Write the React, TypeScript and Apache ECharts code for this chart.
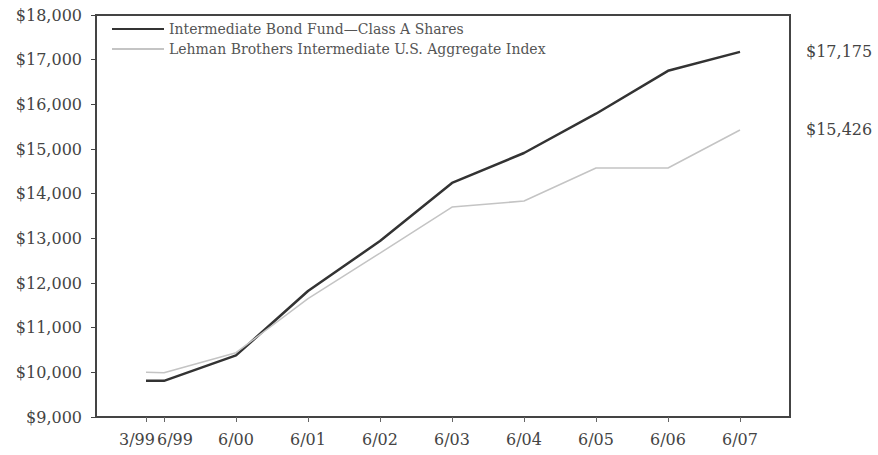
import React, { useEffect, useRef } from "react";
import * as echarts from "echarts";

// Months elapsed since 3/99 for each reporting date
const periodLabels = ["3/99", "6/99", "6/00", "6/01", "6/02", "6/03", "6/04", "6/05", "6/06", "6/07"];
const periodMonths = [0, 3, 15, 27, 39, 51, 63, 75, 87, 99];

// Growth of a $10,000 investment
const fundValues = [9810, 9810, 10380, 11820, 12940, 14240, 14910, 15790, 16750, 17175];
const indexValues = [10000, 9990, 10440, 11650, 12670, 13700, 13835, 14575, 14575, 15426];

const fundName = "Intermediate Bond Fund\u2014Class A Shares";
const indexName = "Lehman Brothers Intermediate U.S. Aggregate Index";

const FONT = "DejaVu Serif";

const money = (v: number) => "$" + v.toLocaleString("en-US");

export default function App() {
  const ref = useRef<HTMLDivElement>(null);

  useEffect(() => {
    if (!ref.current) return;
    const chart = echarts.init(ref.current, null, { renderer: "svg" });
    const pairs = (vals: number[]) => periodMonths.map((m, i) => [m, vals[i]]);
    const labelOf = (v: number) => {
      const i = periodMonths.indexOf(Math.round(v));
      return i >= 0 ? periodLabels[i] : "";
    };

    chart.setOption({
      animation: false,
      backgroundColor: "#fff",
      textStyle: { fontFamily: FONT },
      grid: {
        left: 96,
        right: 88,
        top: 15,
        bottom: 38,
        show: true,
        borderColor: "#444",
        borderWidth: 2,
      },
      legend: {
        orient: "vertical",
        left: 106,
        top: 17,
        itemWidth: 52,
        itemHeight: 10,
        itemGap: 6,
        itemStyle: { opacity: 0 },
        textStyle: { fontFamily: FONT, fontSize: 14, color: "#555" },
        data: [fundName, indexName],
      },
      xAxis: {
        type: "value",
        min: -8.333,
        max: 107.333,
        splitLine: { show: false },
        axisLine: { show: true, onZero: false, lineStyle: { color: "#444", width: 2 } },
        axisTick: {
          show: true,
          customValues: periodMonths,
          length: 5,
          lineStyle: { color: "#666" },
        },
        axisLabel: {
          customValues: periodMonths,
          margin: 14,
          fontFamily: FONT,
          fontSize: 16,
          color: "#444",
          formatter: (v: number) => {
            const t = labelOf(v);
            if (t === "3/99") return "{l|" + t + "}";
            if (t === "6/99") return "{r|" + t + "}";
            return t;
          },
          rich: {
            l: { fontFamily: FONT, fontSize: 16, color: "#444", padding: [0, 18, 0, 0] },
            r: { fontFamily: FONT, fontSize: 16, color: "#444", padding: [0, 0, 0, 22] },
          },
        },
      },
      yAxis: {
        type: "value",
        min: 9000,
        max: 18000,
        interval: 1000,
        splitLine: { show: false },
        axisLine: { show: true, onZero: false, lineStyle: { color: "#444", width: 2 } },
        axisTick: { show: true, length: 5, lineStyle: { color: "#444" } },
        axisLabel: {
          margin: 14,
          fontFamily: FONT,
          fontSize: 16,
          color: "#444",
          formatter: (v: number) => money(v),
        },
      },
      series: [
        {
          name: fundName,
          type: "line",
          data: pairs(fundValues),
          symbol: "none",
          lineStyle: { color: "#333", width: 2.5 },
          itemStyle: { color: "#333" },
          endLabel: {
            show: true,
            offset: [58, 0],
            fontFamily: FONT,
            fontSize: 16,
            color: "#444",
            formatter: (p: any) => money(p.value[1]),
          },
        },
        {
          name: indexName,
          type: "line",
          data: pairs(indexValues),
          symbol: "none",
          lineStyle: { color: "#c4c4c4", width: 1.5 },
          itemStyle: { color: "#c4c4c4" },
          endLabel: {
            show: true,
            offset: [58, 0],
            fontFamily: FONT,
            fontSize: 16,
            color: "#444",
            formatter: (p: any) => money(p.value[1]),
          },
        },
      ],
    });

    return () => chart.dispose();
  }, []);

  return (
    <div
      ref={ref}
      style={{ position: "fixed", left: 0, top: 0, width: 878, height: 455 }}
    />
  );
}
